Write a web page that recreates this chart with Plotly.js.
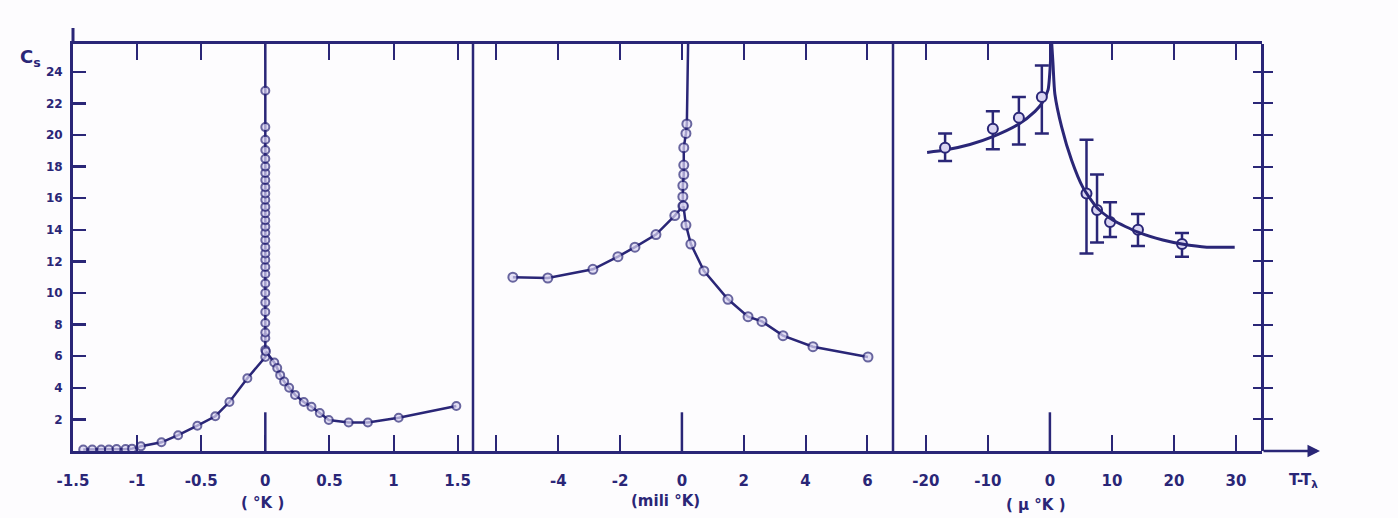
<!DOCTYPE html>
<html><head><meta charset="utf-8">
<script src="https://cdn.plot.ly/plotly-3.0.1.min.js"></script>
<style>html,body{margin:0;padding:0;background:#fdfcfe}#chart{width:1398px;height:518px}</style>
</head><body><div id="chart"></div>
<script>
// ---- Panel 1: T - Tλ in °K ----
const p1BelowX = [-1.42,-1.35,-1.28,-1.22,-1.16,-1.09,-1.04,-0.97,-0.81,-0.68,-0.53,-0.39,-0.28,-0.14,
  0,0,0,0,0,0,0,0,0,0,0,0,0,0,0,0,0,0,0,0,0,0,0,0,0,0,0,0,0,0,0, 0];
const p1BelowCs = [0.1,0.1,0.1,0.1,0.12,0.12,0.15,0.3,0.55,1.0,1.6,2.2,3.1,4.6,
  5.95,6.4,7.15,7.5,8.1,8.8,9.4,10.0,10.6,11.2,11.65,12.1,12.5,12.9,13.35,13.8,14.2,14.6,15.05,15.45,15.9,16.3,16.7,17.15,17.6,18.0,18.5,19.05,19.7,20.5,22.8, 25.76];
const p1AboveX = [0.005,0.07,0.093,0.116,0.147,0.186,0.232,0.30,0.36,0.425,0.495,0.65,0.80,1.04,1.49];
const p1AboveCs = [6.3,5.6,5.25,4.8,4.4,4.0,3.55,3.1,2.8,2.4,1.96,1.8,1.8,2.1,2.85];
const p1Ticks = [-1.5,-1,-0.5,0,0.5,1,1.5];
const p1TickText = ['-1.5','-1','-0.5','0','0.5','1','1.5'];

// ---- Panel 2: T - Tλ in mili °K ----
const p2BelowX = [-5.47,-4.34,-2.88,-2.07,-1.52,-0.84,-0.23,0.03,0.03,0.03,0.06,0.06,0.06,0.13,0.16,0.2];
const p2BelowCs = [11.0,10.95,11.5,12.3,12.9,13.7,14.9,15.5,16.1,16.8,17.5,18.1,19.2,20.1,20.7,25.76];
const p2AboveX = [0.05,0.13,0.29,0.71,1.49,2.14,2.59,3.27,4.24,6.02];
const p2AboveCs = [15.5,14.3,13.1,11.4,9.6,8.5,8.2,7.3,6.6,5.95];
const p2Ticks = [-6,-4,-2,0,2,4,6];
const p2TickText = ['','-4','-2','0','2','4','6'];

// ---- Panel 3: T - Tλ in μ °K ----
const p3X = [-16.9,-9.2,-5.0,-1.3,5.9,7.6,9.7,14.2,21.3];
const p3Cs = [19.2,20.4,21.1,22.4,16.3,15.25,14.5,14.0,13.1];
const p3ErrUp = [0.9,1.1,1.3,2.0,3.4,2.25,1.25,1.0,0.7];
const p3ErrDown = [0.85,1.3,1.7,2.3,3.8,2.05,0.95,1.03,0.8];
const p3CurveBelowX = [-19.8,-16.9,-12.9,-9.2,-5.0,-2.4,-1.3,-0.3,0.1,0.2];
const p3CurveBelowCs = [18.9,19.05,19.4,19.9,20.7,21.5,22.0,22.85,24.7,25.76];
const p3CurveAboveX = [0.3,0.5,0.8,1.9,3.5,5.3,7.6,10.2,14.2,18.2,21.3,25.3,29.8];
const p3CurveAboveCs = [25.76,24.5,22.6,20.5,18.4,16.7,15.4,14.6,13.85,13.35,13.1,12.9,12.9];
const p3Ticks = [-20,-10,0,10,20,30];
const p3TickText = ['-20','-10','0','10','20','30'];

const csTicks = [2,4,6,8,10,12,14,16,18,20,22,24];
const csTickText = ['2','4','6','8','10','12','14','16','18','20','22','24'];

const W = 1398, H = 518;
const INK = '#2a2677', FILL = '#d9d4f2';
const FONT = 'DejaVu Sans';
const px = v => v / W, py = v => 1 - v / H;
const yTop = 25.76;

function markerArr(n, size, lastHidden) {
  const s = [], w = [];
  for (let i = 0; i < n; i++) { const hide = lastHidden && i === n - 1; s.push(hide ? 0 : size); w.push(hide ? 0 : 2); }
  return {color: FILL, size: s, line: {color: INK, width: w}};
}

const traces = [
  {x: p1BelowX, y: p1BelowCs, xaxis: 'x', yaxis: 'y', mode: 'lines+markers',
   line: {color: INK, width: 2.5}, marker: markerArr(p1BelowX.length, 8, true)},
  {x: p1AboveX, y: p1AboveCs, xaxis: 'x', yaxis: 'y', mode: 'lines+markers',
   line: {color: INK, width: 2.5}, marker: markerArr(p1AboveX.length, 8, false)},
  {x: p2BelowX, y: p2BelowCs, xaxis: 'x2', yaxis: 'y', mode: 'lines+markers',
   line: {color: INK, width: 2.5}, marker: markerArr(p2BelowX.length, 9, true)},
  {x: p2AboveX, y: p2AboveCs, xaxis: 'x2', yaxis: 'y', mode: 'lines+markers',
   line: {color: INK, width: 2.5}, marker: markerArr(p2AboveX.length, 9, false)},
  {x: p3CurveBelowX, y: p3CurveBelowCs, xaxis: 'x3', yaxis: 'y2', mode: 'lines',
   line: {color: INK, width: 3, shape: 'spline', smoothing: 0.6}},
  {x: p3CurveAboveX, y: p3CurveAboveCs, xaxis: 'x3', yaxis: 'y3', mode: 'lines',
   line: {color: INK, width: 3, shape: 'spline', smoothing: 0.6}},
  {x: p3X, y: p3Cs, xaxis: 'x3', yaxis: 'y2', mode: 'markers',
   marker: {color: FILL, size: 10, line: {color: INK, width: 2}},
   error_y: {type: 'data', symmetric: false, array: p3ErrUp, arrayminus: p3ErrDown,
             color: INK, thickness: 2.5, width: 7}}
];

const tickFont = {family: FONT, size: 15, color: INK, weight: 'bold'};
function xAx(dom, range, vals, text) {
  return {domain: [px(dom[0]), px(dom[1])], range: range, anchor: 'y',
    showline: true, linewidth: 3, linecolor: INK, mirror: 'ticks',
    ticks: 'inside', ticklen: 16, tickwidth: 2, tickcolor: INK,
    tickvals: vals, ticktext: text, tickfont: tickFont, ticklabelstandoff: 14,
    showgrid: false, zeroline: false, fixedrange: true};
}
const yDom = [py(451), py(44)];
function rightAx(ticks, showline) {
  return {overlaying: 'y', anchor: 'free', position: px(1262), side: 'right', domain: yDom,
    range: [0, yTop], showline: showline, linewidth: 2.5, linecolor: INK,
    ticks: ticks, ticklen: 9, tickwidth: 2, tickcolor: INK, tickvals: csTicks,
    showticklabels: false, showgrid: false, zeroline: false, fixedrange: true};
}

const zeroTick = (xr) => ({type: 'line', xref: xr, yref: 'y', x0: 0, x1: 0, y0: 0, y1: 2.45,
  line: {color: INK, width: 2.5}});
const vline = (xp) => ({type: 'line', xref: 'paper', yref: 'paper', x0: px(xp), x1: px(xp),
  y0: py(451), y1: py(44), line: {color: INK, width: 2.5}});

const ann = (text, x, y, size) => ({text: text, x: px(x), y: py(y), xref: 'paper', yref: 'paper',
  showarrow: false, xanchor: 'center', yanchor: 'middle',
  font: {family: FONT, size: size, color: INK, weight: 'bold'}});

const layout = {
  width: W, height: H, margin: {l: 0, r: 0, t: 0, b: 0},
  paper_bgcolor: '#fdfcfe', plot_bgcolor: 'rgba(0,0,0,0)', showlegend: false,
  xaxis: xAx([73, 473], [-1.5, 1.62], p1Ticks, p1TickText),
  xaxis2: xAx([473, 893], [-6.76, 6.83], p2Ticks, p2TickText),
  xaxis3: xAx([893, 1262], [-25.3, 34.2], p3Ticks, p3TickText),
  yaxis: {domain: yDom, range: [0, yTop], anchor: 'x', showline: true, linewidth: 3, linecolor: INK,
    ticks: 'inside', ticklen: 13, tickwidth: 2.5, tickcolor: INK, tickvals: csTicks, ticktext: csTickText,
    tickfont: {family: FONT, size: 12, color: INK, weight: 'bold'}, ticklabelstandoff: 5,
    showgrid: false, zeroline: false, fixedrange: true},
  yaxis2: rightAx('outside', true),
  yaxis3: rightAx('inside', false),
  shapes: [
    zeroTick('x'), zeroTick('x2'), zeroTick('x3'),
    vline(473), vline(893),
    {type: 'line', xref: 'paper', yref: 'paper', x0: px(73), x1: px(73), y0: py(44), y1: py(28),
     line: {color: INK, width: 3}}
  ],
  annotations: [
    {x: px(1320), y: py(451), xref: 'paper', yref: 'paper', ax: -58, ay: 0, text: '',
     showarrow: true, arrowhead: 2, arrowsize: 1, arrowwidth: 2.5, arrowcolor: INK},
    ann('C<sub>s</sub>', 30, 58, 18),
    ann('T-T<sub>λ</sub>', 1303, 480, 15),
    ann('( °K )', 262, 503, 15),
    ann('(mili °K)', 665, 501, 15),
    ann('( μ °K )', 1036, 505, 15)
  ]
};

Plotly.newPlot('chart', traces, layout, {displayModeBar: false, staticPlot: true});
</script></body></html>
